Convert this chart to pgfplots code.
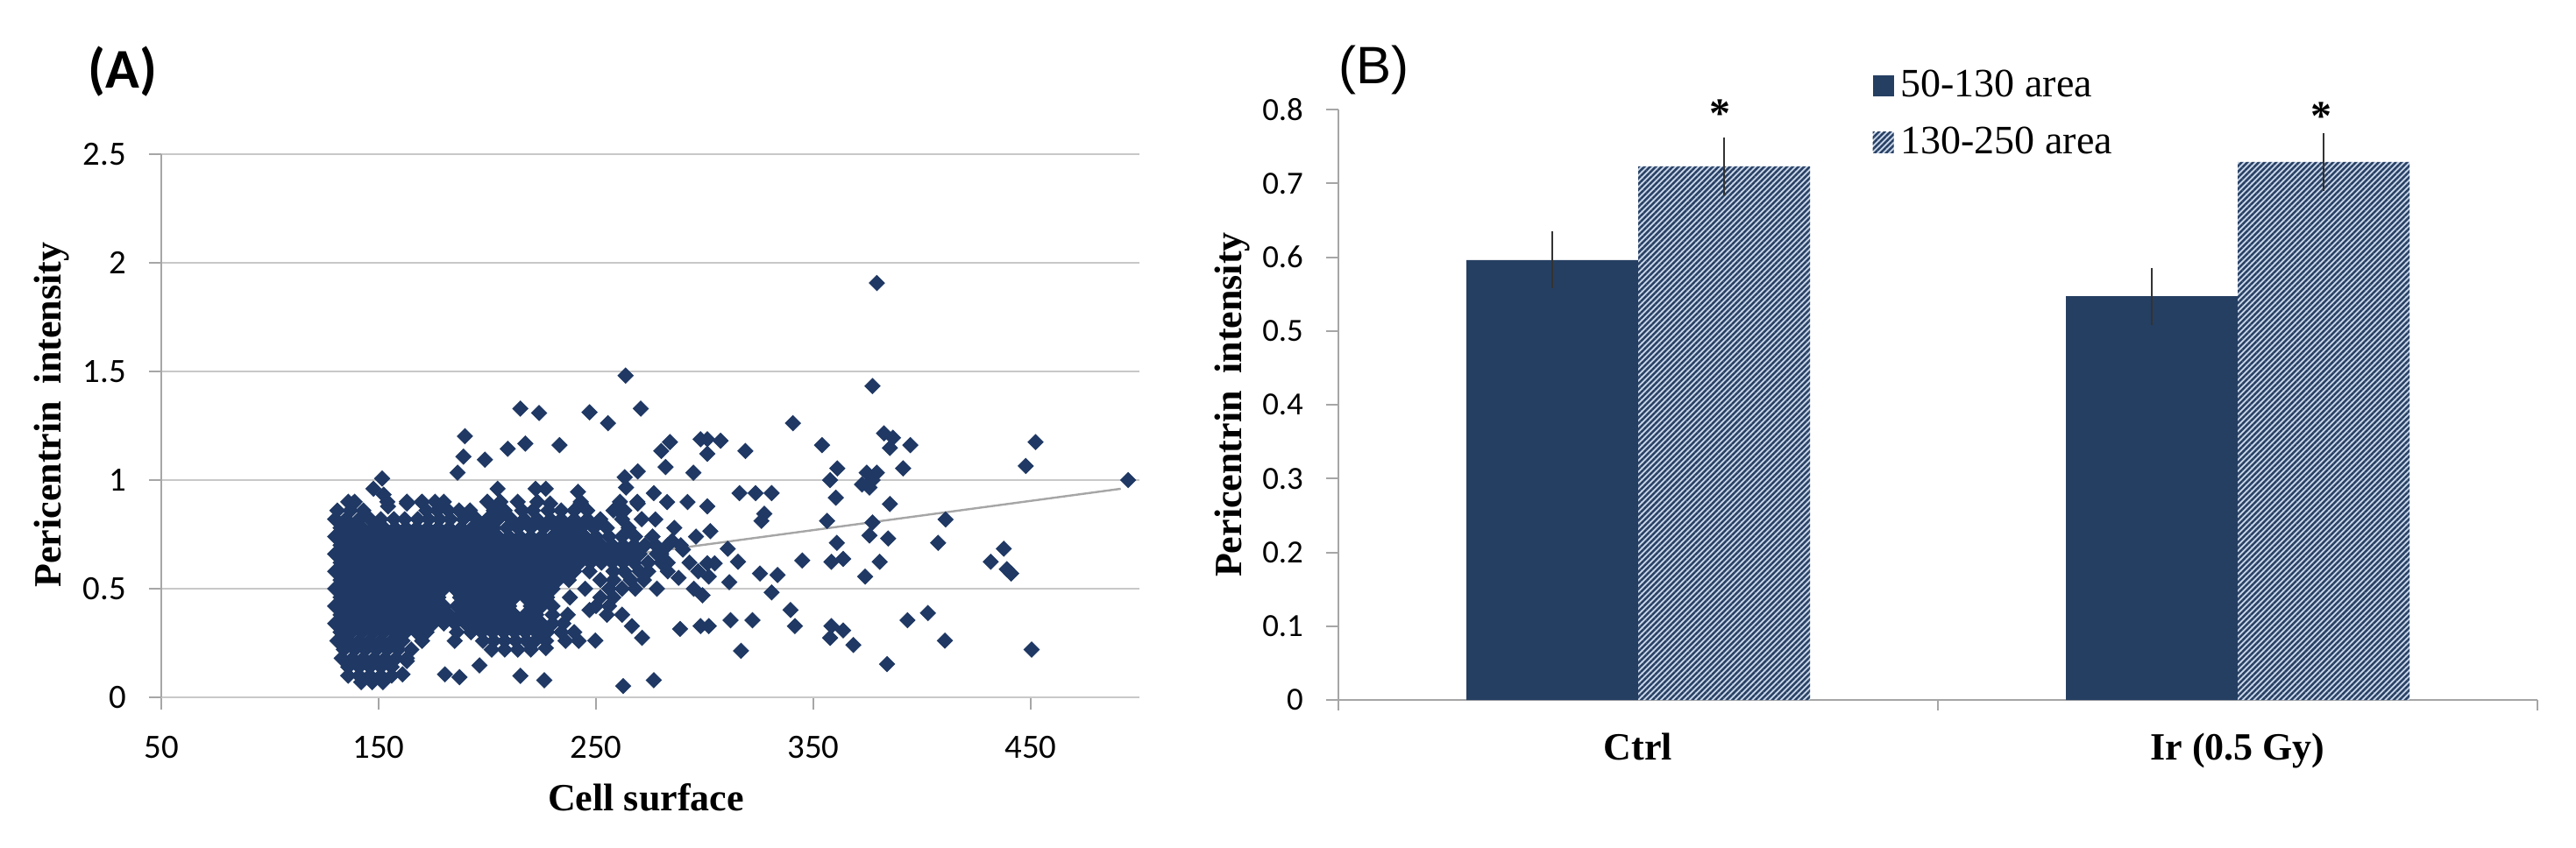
\documentclass[border=0pt]{standalone}
\usepackage{fontspec}
\setmainfont{Liberation Serif}
\newfontfamily\calibri{Carlito}
\newfontfamily\arialf{Liberation Sans}
\newfontfamily\timesf{Liberation Serif}
\usepackage{pgfplots}
\pgfplotsset{compat=1.18}
\usetikzlibrary{patterns.meta}
\definecolor{navy}{RGB}{31,56,100}
\definecolor{barnavy}{RGB}{37,63,98}
\definecolor{hatchbg}{RGB}{201,214,232}
\definecolor{hatchfg}{RGB}{40,64,100}
\definecolor{axgray}{RGB}{166,166,166}
\definecolor{gridgray}{RGB}{200,200,200}
\pgfplotsset{
  sqlegend/.style={legend image code/.code={\path[##1,draw=none] (0pt,-3pt) rectangle (6pt,3pt);}},
}
\newcommand{\legfont}{\timesf\fontsize{11.5}{12}\selectfont}
\begin{document}
\begin{tikzpicture}
\path[use as bounding box] (0,0) rectangle (734.75pt,-241.75pt);
\node[font=\calibri\bfseries\fontsize{16}{16}\selectfont] at (35pt,-20.5pt) {(A)};
\node[font=\arialf\fontsize{15}{15}\selectfont] at (391.75pt,-20pt) {(B)};

% ---------------- Panel A ----------------
\begin{axis}[
  at={(46pt,-199pt)}, anchor=south west,
  scale only axis, width=279pt, height=155pt,
  xmin=50, xmax=500, ymin=0, ymax=2.5,
  xtick={50,150,250,350,450}, ytick={0,0.5,1,1.5,2,2.5},
  axis x line=bottom, axis y line=left,
  x axis line style={-, gridgray, line width=0.7pt},
  y axis line style={-, axgray, line width=0.5pt},
  ymajorgrids, grid style={gridgray, line width=0.7pt},
  tick align=outside, major tick length=3.5pt,
  tick style={axgray, line width=0.5pt},
  /pgf/number format/assume math mode=true,
  ticklabel style={font=\calibri\fontsize{9.7}{10}\selectfont},
  xticklabel style={yshift=-4pt},
  yticklabel style={xshift=-3pt},
  xlabel={Cell surface}, ylabel={Pericentrin\hspace{0.45em}intensity},
  xlabel style={font=\timesf\bfseries\fontsize{11}{11}\selectfont, at={(axis description cs:0.4955,-0.184)}, anchor=center},
  ylabel style={font=\timesf\bfseries\fontsize{11}{11}\selectfont, at={(axis description cs:-0.112,0.52)}, anchor=center},
  clip=false,
]
\addplot[only marks, mark=square*, mark size=1.45pt, color=navy, mark options={rotate=45, fill=navy, draw=navy}] coordinates {
(379.2,1.907) (377.2,1.433) (340.6,1.262) (301.2,1.188) (307.3,1.181) (301.2,1.121) (318.7,1.134) (354.0,1.161) (382.5,1.215) (386.6,1.195) (385.2,1.148) (394.6,1.161) (452.2,1.175) (447.7,1.065) (494.8,1.0) (361.0,1.054) (357.7,1.0) (360.3,0.919) (374.5,1.034) (379.2,1.034) (372.4,0.980) (375.8,0.966) (377.2,1.0) (391.3,1.054) (385.2,0.890) (316.0,0.940) (323.4,0.940) (330.8,0.940) (301.2,0.879) (327.4,0.845) (326.1,0.812) (302.6,0.765) (356.3,0.812) (377.2,0.805) (375.8,0.745) (384.4,0.731) (410.8,0.819) (407.4,0.711) (360.8,0.711) (310.6,0.684) (315.3,0.624) (301.2,0.617) (304.6,0.617) (301.9,0.556) (311.3,0.530) (325.4,0.570) (333.5,0.563) (330.8,0.483) (344.9,0.630) (358.3,0.624) (363.7,0.637) (380.5,0.624) (373.8,0.556) (431.6,0.624) (437.6,0.684) (439.0,0.590) (441.0,0.570) (339.5,0.402) (341.5,0.328) (301.9,0.328) (311.9,0.355) (322.0,0.355) (316.7,0.214) (358.3,0.328) (363.7,0.308) (357.7,0.274) (368.4,0.241) (383.9,0.153) (393.3,0.355) (402.7,0.388) (410.5,0.261) (450.4,0.220)
(263.6,1.481) (215.2,1.329) (223.8,1.309) (247.0,1.312) (255.5,1.262) (270.6,1.329) (189.7,1.202) (209.4,1.144) (217.5,1.168) (233.2,1.161) (189.0,1.108) (198.9,1.094) (186.3,1.034) (284.0,1.175) (280.0,1.134) (282.0,1.060) (298.1,1.188) (269.2,1.040) (263.2,1.013) (263.8,0.966) (294.8,1.034) (151.6,1.007) (147.6,0.960) (152.3,0.933) (138.2,0.892) (132.8,0.798) (140.9,0.818) (154.3,0.879) (163.0,0.892) (169.8,0.899) (204.7,0.960) (222.2,0.960) (226.9,0.960) (241.7,0.946) (243.0,0.892) (276.6,0.940) (282.7,0.899) (292.1,0.899) (269.2,0.892) (260.5,0.859) (277.3,0.819) (228.9,0.892)
(163.0,0.167) (161.0,0.106) (180.5,0.106) (187.2,0.093) (196.4,0.147) (215.2,0.099) (226.2,0.079) (262.5,0.052) (276.6,0.079) (288.7,0.315) (271.2,0.274) (266.5,0.328) (249.7,0.261) (223.5,0.294) (226.9,0.227) (247.0,0.402) (298.1,0.328)
(285,0.72) (290,0.68) (293,0.62) (297,0.58) (288,0.55) (295,0.50) (299,0.47) (283,0.62) (278,0.66) (274,0.58) (286,0.78) (296,0.74)
(136,0.90) (139,0.90) (154,0.90) (163,0.90) (170,0.90) (176,0.90) (180,0.90) (200,0.90) (206,0.90) (214,0.90) (223,0.90) (243,0.90) (261,0.90) (269,0.90)
(131,0.86) (137,0.86) (143,0.86) (172,0.86) (177,0.86) (182,0.86) (187,0.86) (192,0.86) (203,0.86) (208,0.86) (216,0.86) (221,0.86) (228,0.86) (234,0.86) (240,0.86) (246,0.86) (258,0.86) (263,0.86)
(130,0.82) (135,0.82) (141,0.82) (146,0.82) (151,0.82) (157,0.82) (162,0.82) (168,0.82) (173,0.82) (178,0.82) (183,0.82) (189,0.82) (195,0.82) (200,0.82) (205,0.82) (211,0.82) (217,0.82) (223,0.82) (229,0.82) (234,0.82) (240,0.82) (246,0.82) (252,0.82) (262,0.82) (271,0.82)
(132.5,0.78) (137.5,0.78) (142.5,0.78) (147.5,0.78) (152.5,0.78) (157.5,0.78) (162.5,0.78) (167.5,0.78) (172.5,0.78) (177.5,0.78) (182.5,0.78) (188,0.78) (193,0.78) (198,0.78) (203,0.78) (209,0.78) (214,0.78) (220,0.78) (226,0.78) (232,0.78) (237,0.78) (243,0.78) (249,0.78) (255,0.78) (265,0.78)
(130,0.74) (135,0.74) (140,0.74) (145,0.74) (150,0.74) (155,0.74) (160,0.74) (165,0.74) (170,0.74) (175,0.74) (180,0.74) (185,0.74) (190,0.74) (195,0.74) (200,0.74) (205,0.74) (210,0.74) (215,0.74) (220,0.74) (225,0.74) (230,0.74) (235,0.74) (240,0.74) (245,0.74) (250,0.74) (256,0.74) (262,0.74) (268,0.74) (276,0.74)
(132.5,0.70) (137.5,0.70) (142.5,0.70) (147.5,0.70) (152.5,0.70) (157.5,0.70) (162.5,0.70) (167.5,0.70) (172.5,0.70) (177.5,0.70) (182.5,0.70) (187.5,0.70) (192.5,0.70) (197.5,0.70) (202.5,0.70) (207.5,0.70) (212.5,0.70) (217.5,0.70) (222.5,0.70) (227.5,0.70) (232.5,0.70) (237.5,0.70) (242.5,0.70) (247.5,0.70) (252.5,0.70) (257.5,0.70) (262.5,0.70) (267.5,0.70) (272.5,0.70) (277.5,0.70) (283,0.70) (289,0.70)
(130,0.66) (135,0.66) (140,0.66) (145,0.66) (150,0.66) (155,0.66) (160,0.66) (165,0.66) (170,0.66) (175,0.66) (180,0.66) (185,0.66) (190,0.66) (195,0.66) (200,0.66) (205,0.66) (210,0.66) (215,0.66) (220,0.66) (225,0.66) (230,0.66) (235,0.66) (240,0.66) (245,0.66) (250,0.66) (255,0.66) (260,0.66) (265,0.66) (270,0.66) (280,0.66)
(132.5,0.62) (137.5,0.62) (142.5,0.62) (147.5,0.62) (152.5,0.62) (157.5,0.62) (162.5,0.62) (167.5,0.62) (172.5,0.62) (177.5,0.62) (182.5,0.62) (187.5,0.62) (192.5,0.62) (197.5,0.62) (202.5,0.62) (207.5,0.62) (212.5,0.62) (217.5,0.62) (222.5,0.62) (227.5,0.62) (232.5,0.62) (237.5,0.62) (242.5,0.62) (247.5,0.62) (252.5,0.62) (257.5,0.62) (262.5,0.62) (267.5,0.62) (274,0.62) (280,0.62)
(130,0.58) (135,0.58) (140,0.58) (145,0.58) (150,0.58) (155,0.58) (160,0.58) (165,0.58) (170,0.58) (175,0.58) (180,0.58) (185,0.58) (190,0.58) (195,0.58) (200,0.58) (205,0.58) (210,0.58) (215,0.58) (220,0.58) (225,0.58) (230,0.58) (235,0.58) (240,0.58) (247,0.58) (258,0.58) (263,0.58) (270,0.58) (283,0.58)
(132.5,0.54) (137.5,0.54) (142.5,0.54) (147.5,0.54) (152.5,0.54) (157.5,0.54) (162.5,0.54) (167.5,0.54) (172.5,0.54) (177.5,0.54) (182.5,0.54) (187.5,0.54) (192.5,0.54) (197.5,0.54) (202.5,0.54) (207.5,0.54) (212.5,0.54) (217.5,0.54) (222.5,0.54) (227.5,0.54) (232.5,0.54) (237.5,0.54) (252,0.54) (258,0.54) (266,0.54) (272,0.54)
(130,0.50) (135,0.50) (140,0.50) (145,0.50) (150,0.50) (155,0.50) (160,0.50) (165,0.50) (170,0.50) (175,0.50) (180,0.50) (185,0.50) (190,0.50) (195,0.50) (200,0.50) (205,0.50) (210,0.50) (215,0.50) (220,0.50) (225,0.50) (230,0.50) (245,0.50) (256,0.50) (262,0.50) (268,0.50) (278,0.50)
(132.5,0.46) (137.5,0.46) (142.5,0.46) (147.5,0.46) (152.5,0.46) (157.5,0.46) (162.5,0.46) (167.5,0.46) (172.5,0.46) (177.5,0.46) (187.5,0.46) (192.5,0.46) (197.5,0.46) (202.5,0.46) (207.5,0.46) (212.5,0.46) (217.5,0.46) (222.5,0.46) (227.5,0.46) (238,0.46) (252,0.46) (258,0.46)
(130,0.42) (135,0.42) (140,0.42) (145,0.42) (150,0.42) (155,0.42) (160,0.42) (165,0.42) (170,0.42) (175,0.42) (180,0.42) (186,0.42) (190,0.42) (195,0.42) (200,0.42) (205,0.42) (210,0.42) (220,0.42) (225,0.42) (230,0.42) (250,0.42) (256,0.42)
(132.5,0.38) (137.5,0.38) (142.5,0.38) (147.5,0.38) (152.5,0.38) (157.5,0.38) (162.5,0.38) (167.5,0.38) (172.5,0.38) (177.5,0.38) (182.5,0.38) (187.5,0.38) (192.5,0.38) (197.5,0.38) (202.5,0.38) (207.5,0.38) (212.5,0.38) (217.5,0.38) (222.5,0.38) (230,0.38) (237,0.38) (255,0.38) (262,0.38)
(130,0.34) (135,0.34) (140,0.34) (145,0.34) (150,0.34) (155,0.34) (160,0.34) (165,0.34) (170,0.34) (175,0.34) (180,0.34) (185,0.34) (190,0.34) (195,0.34) (200,0.34) (205,0.34) (210,0.34) (215,0.34) (220,0.34) (225,0.34) (230,0.34) (235,0.34)
(132.5,0.30) (137.5,0.30) (142.5,0.30) (147.5,0.30) (152.5,0.30) (157.5,0.30) (162.5,0.30) (167.5,0.30) (172,0.30) (186,0.30) (192.5,0.30) (197.5,0.30) (202.5,0.30) (207.5,0.30) (212.5,0.30) (217.5,0.30) (222.5,0.30) (227.5,0.30) (234,0.30) (240,0.30)
(131,0.26) (136,0.26) (141,0.26) (146,0.26) (151,0.26) (156,0.26) (161,0.26) (170,0.26) (185,0.26) (198,0.26) (203,0.26) (208,0.26) (213,0.26) (218,0.26) (222,0.26) (227,0.26) (236,0.26) (242,0.26)
(134,0.22) (139,0.22) (144,0.22) (149,0.22) (154,0.22) (159,0.22) (165,0.22) (202,0.22) (208,0.22) (214,0.22) (220,0.22)
(133,0.18) (138,0.18) (143,0.18) (148,0.18) (153,0.18) (158,0.18) (163,0.18)
(136,0.14) (141,0.14) (146,0.14) (151,0.14) (156,0.14)
(136,0.10) (141,0.10) (146,0.10) (151,0.10) (156,0.10)
(142,0.07) (147,0.07) (152,0.07)
};
\addplot[gray!70, line width=0.6pt, no marks] coordinates {(131.5,0.476) (491.4,0.960)};
\end{axis}

% ---------------- Panel B ----------------
\begin{axis}[
  at={(381.75pt,-199.75pt)}, anchor=south west,
  scale only axis, width=342pt, height=168.5pt,
  xmin=0, xmax=2, ymin=0, ymax=0.8,
  ybar=0pt, bar width=49pt,
  xtick={0.5,1.5}, xticklabels={Ctrl, Ir (0.5 Gy)},
  major x tick style={draw=none},
  minor xtick={0,1,2}, minor tick length=3pt,
  ytick={0,0.1,0.2,0.3,0.4,0.5,0.6,0.7,0.8},
  axis x line=bottom, axis y line=left,
  axis line style={-, axgray, line width=0.5pt},
  tick align=outside, major tick length=3.5pt,
  tick style={axgray, line width=0.5pt},
  /pgf/number format/assume math mode=true,
  yticklabel style={font=\calibri\fontsize{9.2}{10}\selectfont, xshift=-3pt},
  xticklabel style={font=\timesf\bfseries\fontsize{11}{11}\selectfont, yshift=-2.5pt},
  ylabel={Pericentrin\hspace{0.45em}intensity},
  ylabel style={font=\timesf\bfseries\fontsize{11}{11}\selectfont, at={(axis description cs:-0.0885,0.5)}, anchor=center},
  legend style={at={(axis description cs:0.445,1.08)}, anchor=north west, draw=none, fill=none,
    font=\legfont, nodes={font=\legfont}, row sep=3pt, inner sep=0pt, cells={anchor=west}},
  clip=false,
]
\addplot[sqlegend, fill=barnavy, draw=none,
  error bars/.cd, y dir=both, y explicit,
  error bar style={black!80, line width=0.5pt},
  error mark options={black!80, line width=0.5pt, mark size=1.8pt}]
  coordinates {(0.5,0.596) +- (0,0.030) (1.5,0.547) +- (0,0.030)};
\addplot[sqlegend, fill=hatchbg, draw=none,
  postaction={pattern={Lines[angle=45,distance=1.15pt,line width=0.62pt]},pattern color=hatchfg},
  error bars/.cd, y dir=both, y explicit,
  error bar style={black!80, line width=0.5pt},
  error mark options={black!80, line width=0.5pt, mark size=1.8pt}]
  coordinates {(0.5,0.723) +- (0,0.031) (1.5,0.729) +- (0,0.031)};
\legend{{\legfont 50-130 area},{\legfont 130-250 area}}
\node[font=\timesf\bfseries\fontsize{12}{12}\selectfont] at (axis cs:0.637,0.794) {*};
\node[font=\timesf\bfseries\fontsize{12}{12}\selectfont] at (axis cs:1.640,0.791) {*};
\end{axis}
\end{tikzpicture}
\end{document}
